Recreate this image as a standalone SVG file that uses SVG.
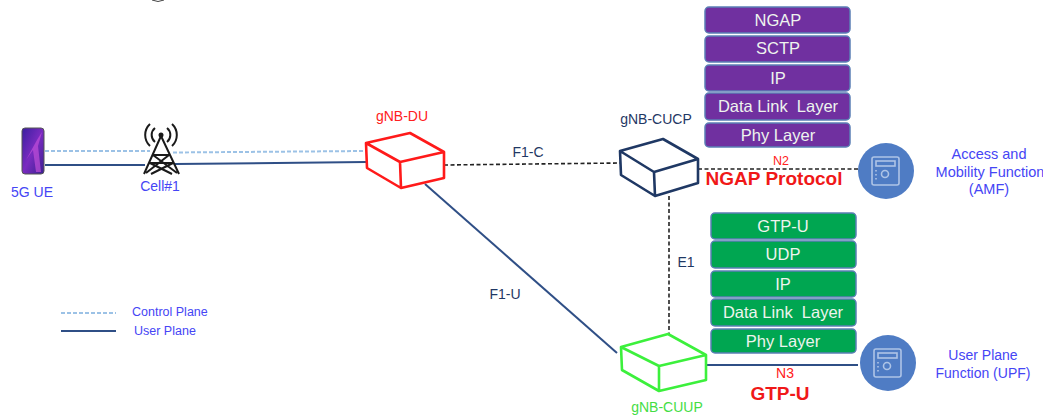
<svg xmlns="http://www.w3.org/2000/svg" width="1043" height="419" viewBox="0 0 1043 419">
<style>
text{font-family:"Liberation Sans",Arial,sans-serif;font-size:14px;text-anchor:middle;white-space:pre}
.blue{fill:#4545f5}.navy{fill:#1f3864}.red{fill:#ff2020}
.bold{font-weight:bold;font-size:19px;fill:#f01818}
.stack{font-size:16.500px;fill:#eef4ee}
.ctrl{fill:none;stroke:#9cc2e6;stroke-width:2;stroke-dasharray:4 2}
.user{fill:none;stroke:#2f4f86;stroke-width:2}
.sig{fill:none;stroke:#222;stroke-width:1.6;stroke-dasharray:4 2.500}
.cube{fill:#fff;stroke-width:2.600;stroke-linejoin:round}
.pu{fill:#7030a0;stroke:#5b7fb5;stroke-width:1.500}
.gr{fill:#00a651;stroke:#5b7fb5;stroke-width:1.500}
.nf{fill:#4f7cc4}
.ico{fill:none;stroke:#aec4e6;stroke-width:1.600}
.tw{fill:none;stroke:#1a1a1a;stroke-width:2}
</style>
<defs><linearGradient id="scr" x1="0" y1="0" x2="1" y2="1"><stop offset="0" stop-color="#3a1fa0"/><stop offset=".5" stop-color="#7a2bc0"/><stop offset="1" stop-color="#3a1f90"/></linearGradient></defs>
<path d="M152 0Q158 3 164 0" fill="none" stroke="#444" stroke-width="1"/>
<g id="connectors">
<path class="ctrl" d="M45 151H150M173 152.500L365 151"/>
<path class="user" d="M45 165H145M175 164L366 162"/>
<path class="sig" d="M444 165L620 163"/>
<path class="user" d="M425 184L617 353"/>
<path class="sig" d="M698 169H858"/>
<path class="sig" d="M669 196V334"/>
<path class="user" d="M706 365H858"/>
</g>
<g id="ue"><rect x="22" y="128" width="22" height="46" rx="3" fill="url(#scr)" stroke="#555" stroke-width="1"/><path d="M26 160L37 140L42 132L38 146L41 172H36L33 150Z" fill="#c04fd8" opacity=".7"/><text class="blue" x="32" y="197">5G UE</text></g>
<g id="cell"><path class="tw" d="M161 136L144 174M161 136L179 174M153 155L169 155M150 163L173 163M146 173L169 155M177 173L153 155M150 163L172 174M173 163L151 174"/><circle cx="161" cy="135" r="2.500" fill="#1a1a1a"/><path class="tw" d="M155 142a9 9 0 0 1 0-14M167 128a9 9 0 0 1 0 14M150 146a15 15 0 0 1 0-22M172 124a15 15 0 0 1 0 22" stroke-width="1.600"/><text class="blue" x="160" y="191">Cell#1</text></g>
<g id="gnb-du"><path class="cube" stroke="#ff1a1a" d="M366 143L410 133L444 152V178L401 188L367 168ZM366 143L400 162L444 152M400 162L401 188"/><text class="red" x="402" y="121">gNB-DU</text></g>
<g id="gnb-cucp"><path class="cube" stroke="#1f3864" d="M620 151L663 139L698 159V183L655 196L621 175ZM620 151L654 172L698 159M654 172L655 196"/><text class="navy" x="656" y="124">gNB-CUCP</text></g>
<g id="gnb-cuup"><path class="cube" stroke="#3cf03c" d="M621 347L668 334L706 355V380L659 391L622 370ZM621 347L659 366L706 355M659 366L659 391"/><text x="667" y="412" fill="#44dd44">gNB-CUUP</text></g>
<g id="ngap-stack">
<rect class="pu" x="705" y="7" width="145" height="26" rx="4"/><text class="stack" x="778" y="26">NGAP</text>
<rect class="pu" x="705" y="36" width="145" height="26" rx="4"/><text class="stack" x="778" y="54">SCTP</text>
<rect class="pu" x="705" y="65" width="145" height="26" rx="4"/><text class="stack" x="778" y="84">IP</text>
<rect class="pu" x="705" y="93" width="145" height="27" rx="4"/><text class="stack" x="778" y="112">Data Link  Layer</text>
<rect class="pu" x="705" y="123" width="145" height="24" rx="4"/><text class="stack" x="778" y="141">Phy Layer</text>
</g>
<g id="gtp-stack">
<rect class="gr" x="711" y="213" width="145" height="26" rx="4"/><text class="stack" x="783" y="232">GTP-U</text>
<rect class="gr" x="711" y="241" width="145" height="27" rx="4"/><text class="stack" x="783" y="260">UDP</text>
<rect class="gr" x="711" y="271" width="145" height="26" rx="4"/><text class="stack" x="783" y="290">IP</text>
<rect class="gr" x="711" y="299" width="145" height="27" rx="4"/><text class="stack" x="783" y="318">Data Link  Layer</text>
<rect class="gr" x="711" y="329" width="145" height="24" rx="4"/><text class="stack" x="783" y="347">Phy Layer</text>
</g>
<g id="amf"><circle class="nf" cx="886" cy="171" r="28"/><rect class="ico" x="872" y="157" width="27" height="28" rx="2"/><rect class="ico" x="876" y="161" width="19" height="5"/><circle class="ico" cx="885" cy="174" r="3.500"/><path class="ico" stroke-dasharray="1.500 2.500" d="M876 170V182"/><text class="blue" x="989" y="159" style="font-size:14.500px">Access and</text><text class="blue" x="990" y="177" style="font-size:14.500px">Mobility Function</text><text class="blue" x="989" y="194" style="font-size:14.500px">(AMF)</text></g>
<g id="upf"><circle class="nf" cx="888" cy="363" r="28"/><rect class="ico" x="874" y="349" width="27" height="28" rx="2"/><rect class="ico" x="878" y="353" width="19" height="5"/><circle class="ico" cx="887" cy="366" r="3.500"/><path class="ico" stroke-dasharray="1.500 2.500" d="M878 362V374"/><text class="blue" x="983" y="360">User Plane</text><text class="blue" x="983" y="378">Function (UPF)</text></g>
<g id="labels">
<text class="navy" x="528" y="157">F1-C</text>
<text class="navy" x="505" y="299">F1-U</text>
<text class="navy" x="686" y="267">E1</text>
<text class="red" x="781" y="165" style="font-size:12.500px">N2</text>
<text class="bold" x="774" y="185">NGAP Protocol</text>
<text class="red" x="785" y="378">N3</text>
<text class="bold" x="780" y="400">GTP-U</text>
</g>
<g id="legend">
<path class="ctrl" d="M61 313H116"/>
<path class="user" d="M61 331H116"/>
<text class="blue" x="132" y="316" style="text-anchor:start;font-size:12.500px">Control Plane</text>
<text class="blue" x="134" y="335" style="text-anchor:start;font-size:12.500px">User Plane</text>
</g>
</svg>
